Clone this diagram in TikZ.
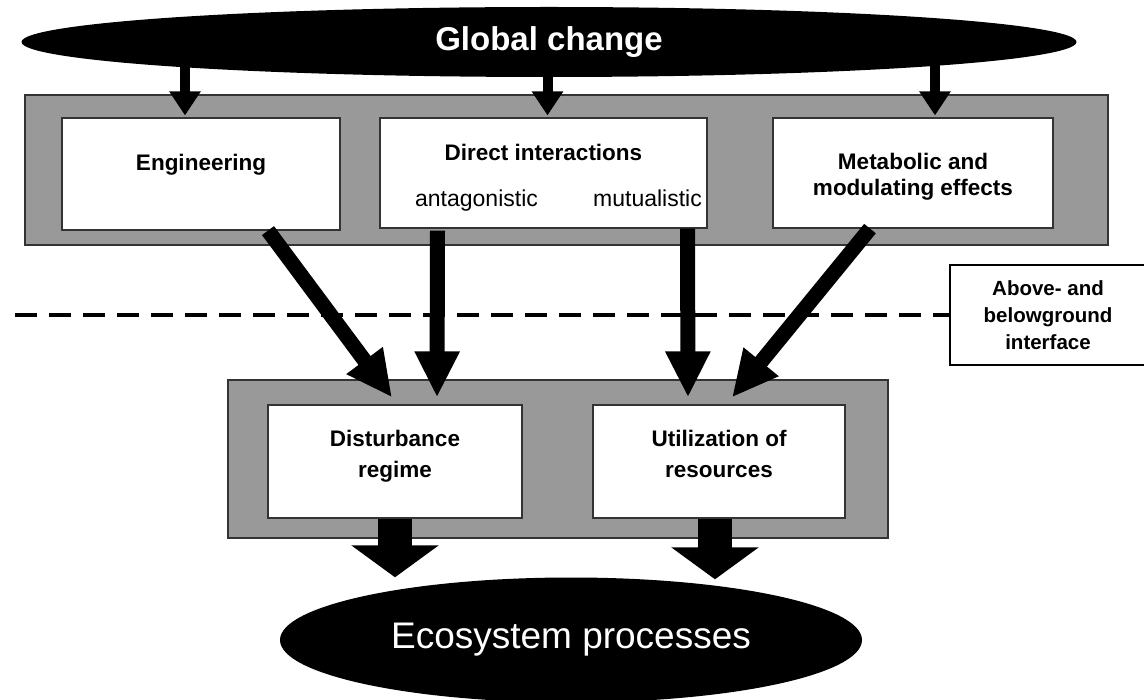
\documentclass[tikz,border=0pt]{standalone}
\usepackage{fontspec}
\setmainfont{Liberation Sans}
\usetikzlibrary{calc,shapes.geometric,arrows.meta}
\newcommand\boxfont{\bfseries\fontsize{22.5}{26}\selectfont}

\begin{document}
\begin{tikzpicture}[x=1pt,y=-1pt,
  tray/.style={draw=black!80, fill=black!40, line width=1.5pt, inner sep=0pt},
  card/.style={draw=black!80, fill=white, line width=1.2pt, inner sep=0pt, align=center, font=\boxfont},
  blob/.style={ellipse, fill=black, text=white, inner sep=0pt},
  thinarrow/.style={line width=10pt, -{Triangle[width=30pt,length=24pt]}},
  midarrow/.style={line width=15pt, -{Triangle[width=42pt,length=46pt]}},
  fatarrow/.style={line width=34pt, -{Triangle[width=86pt,length=32pt]}}]
	%%%%% START %%%%%
	\useasboundingbox (0,0) rectangle (1144,700);
	
	\node[blob, minimum width=1055pt, minimum height=70pt, font=\bfseries\fontsize{33}{36}\selectfont] (global) at (549,42) {Global change};
	
	\node[tray, minimum width=1083pt, minimum height=150pt] (upper) at (566.5,170) {};
	\node[card, minimum width=278pt, minimum height=112pt] (eng) at (201,174) {};
	\node[card, minimum width=327pt, minimum height=110pt] (direct) at (543.5,173) {};
	\node[card, minimum width=280pt, minimum height=110pt] (meta) at (913,173) {};
	\node[font=\boxfont] (engtext) at ($(eng)+(0,-9)$) {Engineering};
	\node[font=\boxfont] (dirtext) at ($(direct)+(0,-21)$) {Direct interactions};
	\node[anchor=base, font=\fontsize{23}{26}\selectfont] (antag) at ($(direct)+(-67,34)$) {antagonistic};
	\node[anchor=base, font=\fontsize{23}{26}\selectfont] (mutual) at ($(direct)+(104,34)$) {mutualistic};
	\node[font=\boxfont, align=center] (metatext) at ($(meta)+(0,4)$) {Metabolic and\\modulating effects};
	
	\draw[thinarrow] ($(eng.north |- global.center)+(-16,20)$) -- ($(eng.north)+(-16,-2)$);
	\draw[thinarrow] ($(direct.north |- global.south)+(4,-6)$) -- ($(direct.north)+(4,-2)$);
	\draw[thinarrow] ($(meta.north |- global.center)+(22,20)$) -- ($(meta.north)+(22,-2)$);
	
	\coordinate (dashstart) at (15,315);
	\node[draw=black, line width=1.5pt, fill=white, minimum width=196pt, minimum height=100pt, inner sep=0pt, align=center, font=\bfseries\fontsize{20.5}{27}\selectfont] (iface) at (1048,315) {Above- and\\belowground\\interface};
	\draw[line width=4pt, dash pattern=on 22pt off 12pt] (dashstart) -- (iface.west);
	
	\node[tray, minimum width=660pt, minimum height=158pt] (lower) at (558,459) {};
	\node[card, minimum width=254pt, minimum height=113pt, text depth=16pt] (dist) at (395,461.5) {Disturbance\\[5pt]regime};
	\node[card, minimum width=252pt, minimum height=113pt, text depth=16pt] (util) at (719,461.5) {Utilization of\\[5pt]resources};
	
	\draw[midarrow] ($(eng.south)+(67,0)$) -- ($(dist.north)+(-3,-7)$);
	\draw[midarrow] ($(eng.south -| antag)+(-39,0)$) -- ($(dist.north)+(42,-7)$);
	\draw[midarrow] ($(direct.south)+(144,0)$) -- ($(util.north)+(-31,-7)$);
	\draw[midarrow] ($(meta.south)+(-43,0)$) -- ($(util.north)+(13,-7)$);
	
	\node[blob, minimum width=582pt, minimum height=125pt, font=\fontsize{37}{40}\selectfont] (eco) at (571,640) {Ecosystem processes};
	
	\draw[fatarrow] (dist.south) -- (dist.south |- eco.north);
	\draw[fatarrow] ($(util.south)+(-4,0)$) -- ($(util.south |- eco.north)+(-4,2)$);
	%%%%% END %%%%%
\end{tikzpicture}
\end{document}
